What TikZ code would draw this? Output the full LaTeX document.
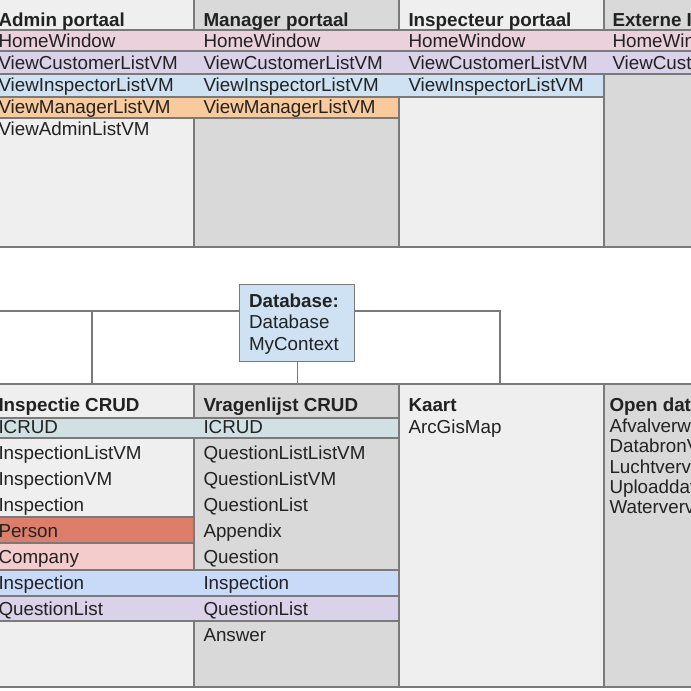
\documentclass[tikz,border=0pt]{standalone}
\usepackage{fontspec}
\setmainfont{Liberation Sans}
\definecolor{colLight}{HTML}{EFEFEF}
\definecolor{colGray}{HTML}{D9D9D9}
\definecolor{rowPink}{HTML}{EAD1DC}
\definecolor{rowPurple}{HTML}{D9D2E9}
\definecolor{rowBlue}{HTML}{CFE2F3}
\definecolor{rowOrange}{HTML}{F9CB9C}
\definecolor{rowTeal}{HTML}{D0E0E3}
\definecolor{rowSalmon}{HTML}{DD7E6B}
\definecolor{rowRose}{HTML}{F4CCCC}
\definecolor{rowCorn}{HTML}{C9DAF8}
\definecolor{lineGray}{HTML}{7A7A7A}
\definecolor{txt}{HTML}{222222}
\tikzset{
  lbl/.style={anchor=base west, inner sep=0pt, outer sep=0pt, text=txt,
              font=\fontsize{18.8}{22}\selectfont},
  hdr/.style={lbl, font=\fontsize{18.8}{22}\selectfont\bfseries},
  edge/.style={draw=lineGray, line width=1.4pt},
  band/.style={draw=lineGray, line width=1.4pt},
  dbbox/.style={draw=lineGray, line width=1.4pt, fill=rowBlue, inner sep=0pt,
                minimum width=115pt, minimum height=77pt, anchor=north west},
}
\begin{document}
\begin{tikzpicture}[x=1pt,y=-1pt]
\useasboundingbox (0,0) rectangle (691,691);
\clip (0,0) rectangle (691,691);
\fill[white] (0,0) rectangle (691,691);

% ---------- top section: portals ----------
\fill[colLight] (-11,-2) rectangle (194,247);
\fill[colGray]  (194,-2) rectangle (399,247);
\fill[colLight] (399,-2) rectangle (604,247);
\fill[colGray]  (604,-2) rectangle (809,247);
\draw[edge] (194,-2) -- (194,247) (399,-2) -- (399,247) (604,-2) -- (604,247);
\draw[edge] (-11,247) -- (809,247);

\filldraw[band, fill=rowPink]   (-11,30) rectangle (809,51);
\filldraw[band, fill=rowPurple] (-11,51) rectangle (809,74);
\filldraw[band, fill=rowBlue]   (-11,74) rectangle (604,97);
\filldraw[band, fill=rowOrange] (-11,97) rectangle (399,118);

\node[hdr] (adm0) at (-1.5,26) {Admin portaal};
\foreach \y/\t [count=\i] in {47/HomeWindow,69/ViewCustomerListVM,91/ViewInspectorListVM,113/ViewManagerListVM,135/ViewAdminListVM}
  \node[lbl] (adm\i) at (-1.5,\y) {\t};

\node[hdr] (man0) at (203.5,26) {Manager portaal};
\foreach \y/\t [count=\i] in {47/HomeWindow,69/ViewCustomerListVM,91/ViewInspectorListVM,113/ViewManagerListVM}
  \node[lbl] (man\i) at (203.5,\y) {\t};

\node[hdr] (ins0) at (408.5,26) {Inspecteur portaal};
\foreach \y/\t [count=\i] in {47/HomeWindow,69/ViewCustomerListVM,91/ViewInspectorListVM}
  \node[lbl] (ins\i) at (408.5,\y) {\t};

\node[hdr] (ext0) at (612.5,26) {Externe Inspecteur portaal};
\foreach \y/\t [count=\i] in {47/HomeWindow,69/ViewCustomerListVM}
  \node[lbl] (ext\i) at (612.5,\y) {\t};

% ---------- bottom section ----------
\fill[colLight] (-11,384) rectangle (194,687);
\fill[colGray]  (194,384) rectangle (399,687);
\fill[colLight] (399,384) rectangle (604,687);
\fill[colGray]  (604,384) rectangle (809,687);
\draw[edge] (194,384) -- (194,687) (399,384) -- (399,687) (604,384) -- (604,687);
\draw[edge] (-11,384) -- (809,384) (-11,687) -- (809,687);

\filldraw[band, fill=rowTeal]   (-11,418) rectangle (399,438);
\filldraw[band, fill=rowSalmon] (-11,517) rectangle (194,543);
\filldraw[band, fill=rowRose]   (-11,543) rectangle (194,570);
\filldraw[band, fill=rowCorn]   (-11,570) rectangle (399,596);
\filldraw[band, fill=rowPurple] (-11,596) rectangle (399,621);

\node[hdr] (crudA0) at (-1.5,411.7) {Inspectie CRUD};
\foreach \y/\t [count=\i] in {433/ICRUD,459/InspectionListVM,485/InspectionVM,511/Inspection,537/Person,563/Company,589/Inspection,615/QuestionList}
  \node[lbl] (crudA\i) at (-1.5,\y) {\t};

\node[hdr] (crudB0) at (203.5,411.7) {Vragenlijst CRUD};
\foreach \y/\t [count=\i] in {433/ICRUD,459/QuestionListListVM,485/QuestionListVM,511/QuestionList,537/Appendix,563/Question,589/Inspection,615/QuestionList,641/Answer}
  \node[lbl] (crudB\i) at (203.5,\y) {\t};

\node[hdr] (kaart0) at (408.5,411.7) {Kaart};
\node[lbl] (kaart1) at (408.5,433) {ArcGisMap};

\node[hdr] (open0) at (609.5,411.7) {Open data};
\foreach \y/\t [count=\i] in {432.3/Afvalverwerking,452.7/DatabronVM,473.3/Luchtvervuiling,493.3/Uploaddata,513.5/Watervervuiling}
  \node[lbl] (open\i) at (609.5,\y) {\t};

% ---------- database and connectors ----------
\coordinate (busL) at (-11,311);
\coordinate (inspTop) at (92,384);
\coordinate (kaartTop) at (500,384);
\coordinate (bottomTop) at (0,384);
\node[dbbox] (db) at (239,284) {};
\draw[edge] (busL) -- (busL -| db.west);
\draw[edge] (busL -| db.east) -- (busL -| kaartTop) -- (kaartTop);
\draw[edge] (busL -| inspTop) -- (inspTop);
\draw[edge] (db.south) -- (db.south |- bottomTop);
\node[hdr] (db0) at (249,307.7) {Database:};
\node[lbl] (db1) at (249,328.3) {Database};
\node[lbl] (db2) at (249,350) {MyContext};
\end{tikzpicture}
\end{document}
